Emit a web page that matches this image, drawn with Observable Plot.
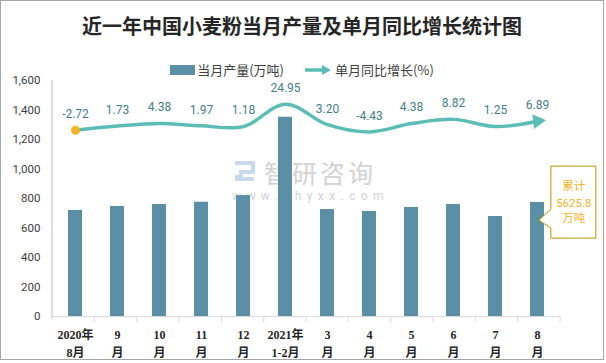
<!DOCTYPE html>
<html>
<head>
<meta charset="utf-8">
<script src="https://cdn.jsdelivr.net/npm/d3@7"></script>
<script src="https://cdn.jsdelivr.net/npm/@observablehq/plot@0.6"></script>
<style>
  body { margin: 0; background: #fff; }
  #wrap { position: relative; width: 602px; height: 358px; border: 1px solid #a6a6a6; overflow: hidden; background: #fff; }
  #title { position: absolute; left: 0; width: 602px; top: 12px; text-align: center; font: bold 20px "Noto Sans CJK SC", sans-serif; color: #262626; line-height: 26px; }
  #legend { position: absolute; left: 0; width: 602px; top: 60px; display: flex; justify-content: center; align-items: center; font: 13px "Noto Sans CJK SC", sans-serif; color: #404040; line-height: 18px; }
  #legend .item { display: flex; align-items: center; }
  #wm { position: absolute; left: 231px; top: 157px; color: #d2d2d2; font-family: "Noto Sans CJK SC", sans-serif; }
  #chart { position: absolute; left: 0; top: 0; }
</style>
</head>
<body>
<div id="wrap">
  <div id="wm">
    <div style="display:flex;align-items:center;height:28px;">
      <svg width="26" height="24" style="margin-right:6px"><path d="M3,3 H21 V12 H9 V19 H22" fill="none" stroke="#c9d9ec" stroke-width="4"/><rect x="3" y="15" width="4" height="6" fill="#c9d9ec"/></svg>
      <span style="font-size:25px;letter-spacing:3px;line-height:28px;">智研咨询</span>
    </div>
    <div style="font-size:12px;letter-spacing:5.4px;margin-top:3px;line-height:14px;font-family:Roboto,sans-serif;">www.chyxx.com</div>
  </div>
  <div id="title">近一年中国小麦粉当月产量及单月同比增长统计图</div>
  <div id="legend">
    <div class="item"><span style="display:inline-block;width:25px;height:10px;background:#5b8fa6;margin-right:2px"></span><span id="lg1"></span></div>
    <div class="item" style="margin-left:21px"><svg width="27" height="12" style="margin-right:3px"><line x1="0" y1="6" x2="19" y2="6" stroke="#5bbdb5" stroke-width="3.5"/><path d="M17,1 L26,6 L17,11 Z" fill="#5bbdb5"/></svg><span id="lg2"></span></div>
  </div>
  <div id="chart"></div>
</div>
<script>
// ---- data ----
const months = ["2020-08","2020-09","2020-10","2020-11","2020-12","2021-01/02","2021-03","2021-04","2021-05","2021-06","2021-07","2021-08"];
const tickLabels = ["2020年\n8月","9\n月","10\n月","11\n月","12\n月","2021年\n1-2月","3\n月","4\n月","5\n月","6\n月","7\n月","8\n月"];
const production = [719, 746, 759, 775, 820, 1351, 725, 712, 739, 759, 678, 773];
const growth = [-2.72, 1.73, 4.38, 1.97, 1.18, 24.95, 3.20, -4.43, 4.38, 8.82, 1.25, 6.89];
const yTicks = [0, 200, 400, 600, 800, 1000, 1200, 1400, 1600];
const y2Domain = [-200, 50];
const seriesNames = ["当月产量(万吨)", "单月同比增长(%)"];
const cumulative = 5625.8;
const calloutAnchorValue = 650;

document.getElementById("lg1").textContent = seriesNames[0];
document.getElementById("lg2").textContent = seriesNames[1];

// secondary axis mapped onto the primary scale
const y2 = d3.scaleLinear().domain(y2Domain).range([yTicks[0], yTicks[yTicks.length - 1]]);
const data = months.map((m, i) => ({m, prod: production[i], g: growth[i], gy: y2(growth[i]), label: tickLabels[i]}));
const fmt = d3.formatLocale({decimal: ".", thousands: ",", grouping: [3], currency: ["", ""], minus: "-"}).format(".2f");

const W = 602, H = 358;
const plot = Plot.plot({
  width: W, height: H,
  marginLeft: 51, marginRight: 43, marginTop: 79, marginBottom: 43,
  style: {background: "transparent", fontFamily: "Roboto, sans-serif", fontSize: "11.5px", color: "#404040", overflow: "visible"},
  x: {domain: months, paddingInner: 0.67, paddingOuter: 0.335, axis: null},
  y: {domain: [0, 1600], ticks: yTicks, tickFormat: d3.format(","), tickSize: 0, tickPadding: 12, label: null},
  marks: [
    Plot.ruleY([0], {stroke: "#d9d9d9", strokeWidth: 1}),
    Plot.barY(data, {x: "m", y: "prod", fill: "#5b8fa6"}),
    Plot.line(data, {x: "m", y: "gy", stroke: "#5bbdb5", strokeWidth: 3.5, curve: "catmull-rom"}),
    Plot.dot([data[0]], {x: "m", y: "gy", r: 4.5, fill: "#f5b327", stroke: null}),
    Plot.dot([data[data.length - 1]], {x: "m", y: "gy", symbol: "triangle", rotate: 84, r: 5.5, fill: "#5bbdb5", stroke: null}),
    Plot.text(data, {x: "m", y: "gy", text: d => fmt(d.g), dy: -16, fill: "#3f8088", fontSize: 12, fontFamily: "Roboto, sans-serif"}),
    Plot.text(data, {x: "m", y: 0, text: "label", dy: 26, lineHeight: 1.5, lineAnchor: "middle", fontWeight: "bold", fontSize: 12, fill: "#262626", fontFamily: "'Liberation Serif', 'Noto Sans CJK SC', serif"})
  ]
});
document.getElementById("chart").appendChild(plot);

// axis line, category ticks and callout, drawn with the plot's own scales
const sx = plot.scale("x"), sy = plot.scale("y");
const xs = d3.scaleBand().domain(sx.domain).range(sx.range)
  .paddingInner(sx.paddingInner ?? 0.67).paddingOuter(sx.paddingOuter ?? 0.335).align(sx.align ?? 0.5);
const ys = d3.scaleLinear().domain(sy.domain).range(sy.range);
const svg = d3.select(plot);
const y0 = ys(0), yTop = ys(yTicks[yTicks.length - 1]);
const step = xs.step(), bw = xs.bandwidth();
const bounds = months.map(m => xs(m) - (step - bw) / 2);
bounds.push(xs(months[months.length - 1]) + bw + (step - bw) / 2);
const g = svg.append("g");
g.selectAll("line.tk").data(bounds.slice(1)).join("line")
  .attr("x1", d => d).attr("x2", d => d).attr("y1", y0).attr("y2", y0 + 6)
  .attr("stroke", "#d9d9d9");
g.append("line").attr("x1", bounds[0]).attr("x2", bounds[0]).attr("y1", yTop).attr("y2", y0 + 3)
  .attr("stroke", "#bfbfbf");

// callout
const last = months[months.length - 1];
const tx = xs(last) + bw / 2, ty = ys(calloutAnchorValue);
const L = tx + 12, R = tx + 57, T = ty - 54, B = ty + 18;
const cg = svg.append("g");
cg.append("path")
  .attr("d", `M${L},${T}H${R}V${B}H${L}V${ty + 8}L${tx},${ty}L${L},${ty - 11}Z`)
  .attr("fill", "#fff").attr("stroke", "#bf9000").attr("stroke-width", 1);
const lines = ["累计", String(cumulative), "万吨"];
const dys = [-34, -17, -2];
lines.forEach((t, i) => {
  cg.append("text").attr("x", tx + 35).attr("y", ty + dys[i]).attr("dy", "0.35em")
    .attr("text-anchor", "middle").attr("fill", "#f5b327")
    .attr("font-size", 11.5).attr("font-family", i === 1 ? "Roboto, sans-serif" : "'Noto Sans CJK SC', sans-serif")
    .text(t);
});
</script>
</body>
</html>
